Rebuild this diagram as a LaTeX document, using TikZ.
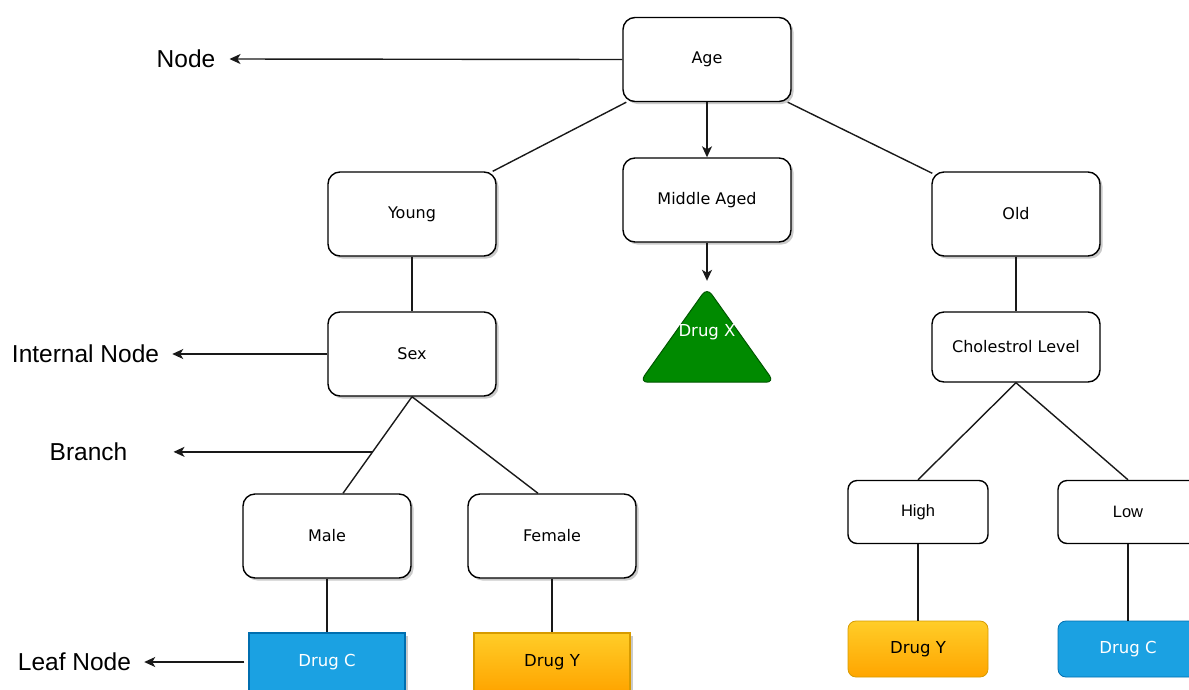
\documentclass[tikz,border=0pt]{standalone}
\usepackage{fontspec}
\setmainfont{DejaVu Sans}
\newfontfamily\lblfont{Liberation Sans}
\usetikzlibrary{arrows.meta,shadows,calc}
\definecolor{drugblue}{HTML}{1BA1E2}
\definecolor{drugblueline}{HTML}{006EAF}
\definecolor{drugtop}{HTML}{FFCD28}
\definecolor{drugbot}{HTML}{FFA500}
\definecolor{drugyline}{HTML}{D79B00}
\definecolor{druggreen}{HTML}{008A00}
\definecolor{druggreenline}{HTML}{005700}

\begin{document}
\begin{tikzpicture}[x=1pt,y=-1pt,
  box/.style={draw=black, line width=1.4pt, rounded corners=12pt, fill=white,
    minimum width=168pt, minimum height=84pt, inner sep=0pt,
    font=\fontsize{16}{19}\selectfont},
  shad/.style={drop shadow={shadow xshift=2.5pt, shadow yshift=-2.5pt,
    opacity=0.35, fill=black!60}},
  smallbox/.style={box, minimum width=140pt, minimum height=63pt,
    rounded corners=9pt, font=\lblfont\fontsize{16.5}{19}\selectfont},
  leafblue/.style={draw=drugblueline, fill=drugblue, text=white, line width=1.4pt,
    inner sep=0pt, font=\fontsize{16.5}{19}\selectfont},
  leafgold/.style={draw=drugyline, top color=drugtop, bottom color=drugbot,
    text=black, line width=1.4pt, inner sep=0pt, font=\fontsize{16.5}{19}\selectfont},
  link/.style={line width=1.4pt, draw=black!90},
  arr/.style={link, -{Stealth[length=11pt,width=10pt,inset=3pt]}},
  lbl/.style={font=\lblfont\fontsize{24.5}{28}\selectfont, inner sep=0pt},
]
\useasboundingbox (0,0) rectangle (1189,689);

% decision nodes
\node[box, shad] (age)   at (707,59.5) {Age};
\node[box, shad] (young) at (412,214)  {Young};
\node[box, shad] (mid)   at (707,200)  {Middle Aged};
\node[box, shad] (old)   at (1016,214) {Old};
\node[box, shad] (sex)   at (412,354)  {Sex};
\node[box, minimum height=70pt] (chol) at (1016,347) {Cholestrol Level};
\node[box, shad] (male)   at (327,536) {Male};
\node[box, shad] (female) at (552,536) {Female};
\node[smallbox] (high) at (918,512)  {High};
\node[smallbox] (low)  at (1128,512) {Low};

% leaves
\node[inner sep=0pt, minimum width=134pt, minimum height=94pt] (drugx) at (707,335) {};
\fill[black!60, opacity=0.35, xshift=2.5pt, yshift=-2.5pt, rounded corners=8pt]
  ($(drugx.south west)!0.5!(drugx.south east)$) -- (drugx.south east)
  -- (drugx.north) -- (drugx.south west) -- cycle;
\draw[fill=druggreen, draw=druggreenline, line width=1pt, rounded corners=8pt]
  ($(drugx.south west)!0.5!(drugx.south east)$) -- (drugx.south east)
  -- (drugx.north) -- (drugx.south west) -- cycle;
\node[text=white, font=\fontsize{16.5}{19}\selectfont] (drugxtext) at (707,332) {Drug X};

\node[leafblue, shad, minimum width=156pt, minimum height=58pt] (drugc1) at (327,662) {Drug C};
\node[leafgold, shad, minimum width=156pt, minimum height=58pt] (drugy1) at (552,662) {Drug Y};
\node[leafgold, line width=0.8pt, rounded corners=8pt, minimum width=140pt, minimum height=56pt] (drugy2) at (918,649) {Drug Y};
\node[leafblue, line width=0.8pt, rounded corners=8pt, minimum width=140pt, minimum height=56pt] (drugc2) at (1128,649) {Drug C};

% branches
\draw[link] ([xshift=4pt]age.south west) -- ([xshift=-4pt]young.north east);
\draw[link] ([xshift=-4pt]age.south east) -- ([shift={(1,2)}]old.north west);
\draw[arr] (age.south) -- (mid.north);
\draw[arr] (mid.south) -- ([yshift=7pt]drugx.north);
\draw[link] (young.south) -- (sex.north);
\draw[link] (sex.south) -- ([xshift=16pt]male.north);
\draw[link] (sex.south) -- ([xshift=-14pt]female.north);
\draw[link] (male.south) -- (drugc1.north);
\draw[link] (female.south) -- (drugy1.north);
\draw[link] (old.south) -- (chol.north);
\draw[link] (chol.south) -- (high.north);
\draw[link] (chol.south) -- (low.north);
\draw[link] (high.south) -- (drugy2.north);
\draw[link] (low.south) -- (drugc2.north);

% annotations
\node[lbl] (lnode)     at (186,59)   {Node};
\node[lbl] (linternal) at (85.5,354) {Internal Node};
\node[lbl] (lbranch)   at (88.5,452) {Branch};
\node[lbl] (lleaf)     at (74.5,662) {Leaf Node};
\coordinate (onbranch) at ($(sex.south)!0.571!([xshift=16pt]male.north)$);

\draw[arr] (age.west) -- ([xshift=14pt]lnode.east);
\draw[arr] (sex.west) -- ([xshift=13pt]linternal.east);
\draw[arr] (onbranch) -- ([xshift=46pt]lbranch.east |- onbranch);
\draw[arr] ([xshift=-4pt]drugc1.west) -- ([xshift=13pt]lleaf.east);
\end{tikzpicture}
\end{document}
